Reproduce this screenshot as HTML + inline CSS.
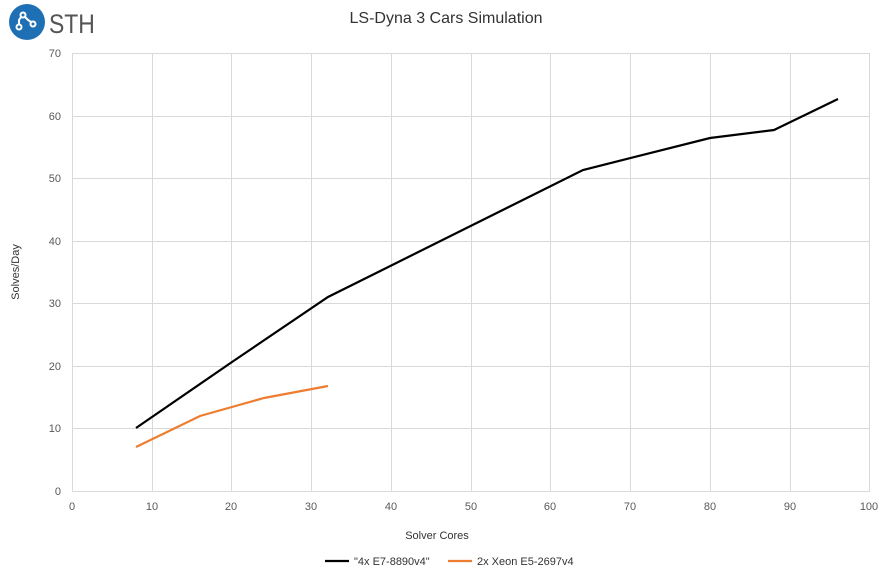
<!DOCTYPE html>
<html><head><meta charset="utf-8"><style>
body{margin:0;background:#fff;}
svg{display:block;font-family:"Liberation Sans",sans-serif;}
</style></head><body>
<svg width="892" height="573" viewBox="0 0 892 573">
<rect width="892" height="573" fill="#fff"/>
<circle cx="27" cy="22" r="18" fill="#1f6fb5"/>
<g stroke="#fff" stroke-width="2" fill="none">
<circle cx="23" cy="15" r="2.5"/><circle cx="33" cy="24" r="2.5"/><circle cx="19" cy="27" r="2.5"/>
<path d="M25 17 L28 20 L31 22 M19 25 L19 20 L21 17"/>
</g>
<text x="49" y="33" font-size="27" fill="#555" transform="translate(49,0) scale(0.85,1) translate(-49,0)">STH</text>
<text x="446" y="23" font-size="16" fill="#333" text-anchor="middle">LS-Dyna 3 Cars Simulation</text>
<g stroke="#d9d9d9" stroke-width="1">
<line x1="72" y1="53.5" x2="870" y2="53.5"/><line x1="72" y1="116.5" x2="870" y2="116.5"/>
<line x1="72" y1="178.5" x2="870" y2="178.5"/><line x1="72" y1="241.5" x2="870" y2="241.5"/>
<line x1="72" y1="303.5" x2="870" y2="303.5"/><line x1="72" y1="366.5" x2="870" y2="366.5"/>
<line x1="72" y1="428.5" x2="870" y2="428.5"/>
<line x1="72.5" y1="53" x2="72.5" y2="491"/><line x1="152.5" y1="53" x2="152.5" y2="491"/>
<line x1="231.5" y1="53" x2="231.5" y2="491"/><line x1="311.5" y1="53" x2="311.5" y2="491"/>
<line x1="391.5" y1="53" x2="391.5" y2="491"/><line x1="471.5" y1="53" x2="471.5" y2="491"/>
<line x1="550.5" y1="53" x2="550.5" y2="491"/><line x1="630.5" y1="53" x2="630.5" y2="491"/>
<line x1="710.5" y1="53" x2="710.5" y2="491"/><line x1="790.5" y1="53" x2="790.5" y2="491"/>
<line x1="869.5" y1="53" x2="869.5" y2="491"/>
<line x1="72" y1="491.5" x2="870" y2="491.5"/>
</g>
<g font-size="11" fill="#595959" text-anchor="end">
<text x="61" y="57">70</text><text x="61" y="120">60</text><text x="61" y="182">50</text>
<text x="61" y="245">40</text><text x="61" y="307">30</text><text x="61" y="370">20</text>
<text x="61" y="432">10</text><text x="61" y="495">0</text>
</g>
<g font-size="11" fill="#595959" text-anchor="middle">
<text x="72" y="510">0</text><text x="152" y="510">10</text><text x="231" y="510">20</text>
<text x="311" y="510">30</text><text x="391" y="510">40</text><text x="471" y="510">50</text>
<text x="550" y="510">60</text><text x="630" y="510">70</text><text x="710" y="510">80</text>
<text x="790" y="510">90</text><text x="869" y="510">100</text>
</g>
<text x="437" y="539" font-size="11" fill="#333" text-anchor="middle">Solver Cores</text>
<text transform="translate(19,272) rotate(-90)" font-size="11" fill="#333" text-anchor="middle">Solves/Day</text>
<polyline fill="none" stroke="#000" stroke-width="2.2" points="136,428 232,362 328,297 583,170 710,138 774,130 838,99"/>
<polyline fill="none" stroke="#ed7d31" stroke-width="2.2" points="136,447 200,416 264,398 328,386"/>
<line x1="325" y1="561" x2="349" y2="561" stroke="#000" stroke-width="2.2"/>
<text x="354" y="565" font-size="11" fill="#333">"4x E7-8890v4"</text>
<line x1="448" y1="561" x2="472" y2="561" stroke="#ed7d31" stroke-width="2.2"/>
<text x="477" y="565" font-size="11" fill="#333">2x Xeon E5-2697v4</text>
</svg>
</body></html>
